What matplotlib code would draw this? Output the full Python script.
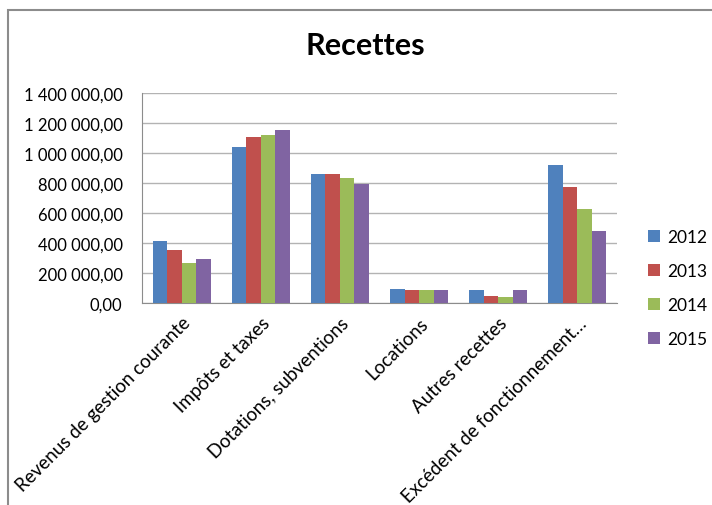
import numpy as np
import matplotlib
matplotlib.use("Agg")
import matplotlib.pyplot as plt
from matplotlib.patches import Rectangle
from matplotlib.ticker import FuncFormatter, MultipleLocator

plt.rcParams['font.family'] = ['Lato', 'DejaVu Sans']

# Données
categories = ["Revenus de gestion courante", "Impôts et taxes", "Dotations, subventions",
              "Locations", "Autres recettes", "Excédent de fonctionnement…"]
annees = ["2012", "2013", "2014", "2015"]
v2012 = [409000, 1035000, 855000, 91000, 84000, 918000]
v2013 = [351000, 1106000, 855000, 84000, 47000, 769000]
v2014 = [264000, 1118000, 829000, 84000, 40000, 627000]
v2015 = [293000, 1151000, 791000, 84000, 84000, 478000]
series = [v2012, v2013, v2014, v2015]
couleurs = ["#4F81BD", "#C0504D", "#9BBB59", "#8064A2"]

fig = plt.figure(figsize=(7.12, 5.06), dpi=100)
ax = fig.add_axes([0.1994, 0.3998, 0.6672, 0.415])

# cadre gris du graphique
fig.patches.append(Rectangle((8 / 712, -0.1), 1.2, 1 - 11 / 506 + 0.1, transform=fig.transFigure,
                             fill=False, edgecolor="#8c8c8c", linewidth=1.5))

x = np.arange(len(categories))
largeur = 0.183
for i, (vals, c, a) in enumerate(zip(series, couleurs, annees)):
    ax.bar(x + (i - 1.5) * largeur, vals, largeur, color=c, label=a, zorder=3)

ax.set_xlim(-0.5, len(categories) - 0.5)
ax.set_ylim(0, 1400000)
ax.yaxis.set_major_locator(MultipleLocator(200000))
ax.yaxis.set_major_formatter(FuncFormatter(
    lambda v, p: f"{v:,.2f}".replace(",", " ").replace(".", ",")))
ax.grid(axis="y", color="#b3b3b3", linewidth=1, zorder=0)

for s in ["top", "right"]:
    ax.spines[s].set_visible(False)
for s in ["left", "bottom"]:
    ax.spines[s].set_color("#8c8c8c")

ax.set_xticks(x)
ax.set_xticklabels(categories, rotation=45, ha="right", rotation_mode="anchor", fontsize=13.5)
ax.tick_params(axis="x", length=0, pad=8)
ax.tick_params(axis="y", length=0, pad=14, labelsize=12)

fig.text(365 / 712, 1 - 46 / 506, "Recettes", ha="center", va="center",
         fontsize=22, fontweight="bold")

fig.legend(loc="center left", bbox_to_anchor=(632 / 712, 1 - 289 / 506), frameon=False,
           fontsize=12.5, handlelength=0.7, handleheight=0.7, labelspacing=1.05,
           handletextpad=0.4)

fig.savefig("out.png", dpi=100)
